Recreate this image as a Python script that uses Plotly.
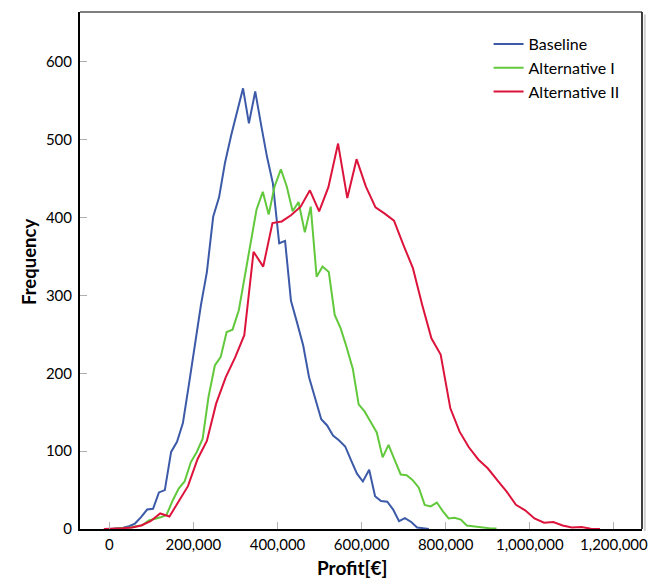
import plotly.graph_objects as go

# ---- data (profit in EUR, frequency counts) ----
baseline_x = [4000, 18000, 33000, 47000, 61000, 75000, 90000, 104000, 118000, 132000,
              147000, 161000, 175000, 190000, 204000, 218000, 232000, 247000, 261000, 275000,
              290000, 304000, 318000, 332000, 347000, 361000, 375000, 389000, 404000, 418000,
              432000, 446000, 461000, 475000, 489000, 504000, 518000, 532000, 546000, 561000,
              575000, 589000, 603000, 618000, 632000, 646000, 661000, 675000, 689000, 703000,
              718000, 732000, 746000, 760000]
baseline_y = [0, 0.5, 1.5, 3.5, 7, 15, 25, 26, 47, 50,
              99, 112, 136, 188, 238, 288, 330, 401, 426, 470,
              506, 538, 566, 521, 562, 519, 478, 444, 367, 370,
              293, 266, 236, 195, 170, 141, 133, 120, 114, 106,
              88, 71, 61, 76, 42, 36, 35, 25, 10, 14,
              9, 2, 1, 0]

alt1_x = [8000, 22000, 37000, 51000, 65000, 79000, 94000, 108000, 122000, 136000,
          151000, 165000, 179000, 194000, 208000, 222000, 236000, 251000, 265000, 279000,
          293000, 308000, 322000, 336000, 350000, 365000, 379000, 393000, 408000, 422000,
          436000, 450000, 465000, 479000, 493000, 507000, 522000, 536000, 550000, 564000,
          579000, 593000, 607000, 621000, 636000, 650000, 664000, 679000, 693000, 707000,
          721000, 736000, 750000, 764000, 779000, 793000, 807000, 821000, 836000, 850000,
          864000, 878000, 893000, 907000, 921000]
alt1_y = [0, 0.5, 1, 2, 3.6, 5, 11, 13, 15, 18,
          37, 52, 61, 86, 99, 116, 170, 210, 221, 253,
          256, 281, 324, 367, 410, 433, 404, 440, 462, 440,
          408, 420, 381, 414, 324, 337, 330, 275, 258, 234,
          206, 160, 151, 138, 124, 92, 108, 88, 70, 69,
          63, 53, 31, 29, 34, 23, 13.5, 14.3, 12, 4.5,
          3.6, 2, 1, 0.8, 0.5]

alt2_x = [-13000, 9000, 31000, 54000, 76000, 98000, 121000, 143000, 165000, 187000,
          210000, 232000, 254000, 277000, 299000, 321000, 343000, 366000, 388000, 410000,
          432000, 455000, 477000, 499000, 521000, 544000, 566000, 588000, 610000, 633000,
          655000, 677000, 700000, 722000, 744000, 766000, 788000, 811000, 833000, 855000,
          878000, 900000, 922000, 945000, 967000, 989000, 1011000, 1034000, 1056000, 1078000,
          1100000, 1123000, 1145000, 1167000]
alt2_y = [0, 0.3, 1, 2, 4.5, 10, 20, 16, 35, 55,
          90, 113, 161, 195, 220, 249, 356, 337, 393, 395,
          403, 414, 435, 408, 439, 495, 425, 475, 440, 413,
          405, 396, 364, 335, 288, 245, 224, 155, 125, 105,
          89, 78, 63, 48, 31, 24, 13.5, 8, 9, 4.5,
          2, 2.7, 0.3, 0]

series_names = ["Baseline", "Alternative I", "Alternative II"]
series_colors = ["#3c5aa8", "#62c83c", "#dc143c"]

x_tickvals = [0, 200000, 400000, 600000, 800000, 1000000, 1200000]
x_ticktext = ["0", "200,000", "400,000", "600,000", "800,000", "1,000,000", "1,200,000"]
y_tickvals = [0, 100, 200, 300, 400, 500, 600]

FONT = "Lato, 'Open Sans', sans-serif"

fig = go.Figure()
for xs, ys, name, col in zip([baseline_x, alt1_x, alt2_x],
                             [baseline_y, alt1_y, alt2_y],
                             series_names, series_colors):
    fig.add_trace(go.Scatter(x=xs, y=ys, mode="lines", name=name,
                             line=dict(color=col, width=2)))

fig.update_layout(
    width=661, height=583,
    margin=dict(l=80, r=19, t=12, b=54),
    paper_bgcolor="white", plot_bgcolor="white",
    font=dict(family=FONT, color="black", size=15),
    showlegend=True,
    legend=dict(x=0.727, y=0.971, xanchor="left", yanchor="top",
                bgcolor="rgba(0,0,0,0)", font=dict(size=16, family=FONT),
                tracegroupgap=0, itemwidth=30),
)
fig.update_xaxes(
    range=[-69700, 1266800], tickvals=x_tickvals, ticktext=x_ticktext,
    showgrid=False, zeroline=False,
    showline=True, linecolor="black", linewidth=2,
    ticks="inside", ticklen=7, tickcolor="#b0b0b0", tickwidth=1,
    tickfont=dict(size=15, family=FONT), ticklabelstandoff=1,
)
fig.update_yaxes(
    range=[0, 664], tickvals=y_tickvals,
    showgrid=False, zeroline=False,
    showline=True, linecolor="black", linewidth=2,
    ticks="inside", ticklen=7, tickcolor="#b0b0b0", tickwidth=1,
    tickfont=dict(size=15, family=FONT), ticklabelstandoff=3,
)
# axis titles
fig.add_annotation(text="<b>Profit[€]</b>", xref="paper", yref="paper",
                   x=0.484, y=-0.075, xanchor="center", yanchor="middle",
                   showarrow=False, font=dict(size=19, family=FONT))
fig.add_annotation(text="<b>Frequency</b>", xref="paper", yref="paper",
                   x=-0.092, y=0.517, xanchor="center", yanchor="middle",
                   textangle=-90, showarrow=False, font=dict(size=18.5, family=FONT))
# frame: top (gray) and right (black) borders
fig.add_shape(type="line", xref="paper", yref="paper", x0=0, x1=1, y0=1, y1=1,
              line=dict(color="#555555", width=1.5))
fig.add_shape(type="line", xref="paper", yref="paper", x0=1, x1=1, y0=0, y1=1,
              line=dict(color="black", width=1.5))
fig.add_shape(type="line", xref="paper", yref="paper", x0=1.005, x1=1.005, y0=-0.004, y1=0.995,
              line=dict(color="#d0d0d0", width=2))

fig.write_html("out.html")
